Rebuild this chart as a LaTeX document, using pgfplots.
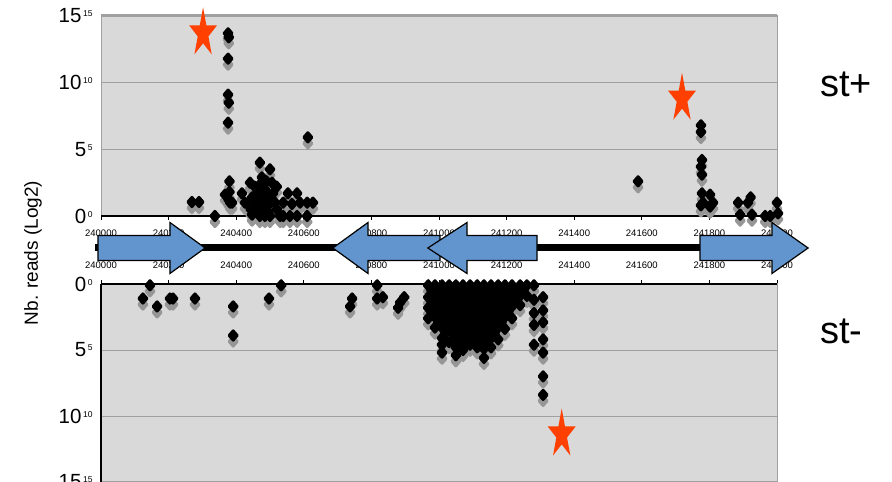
\documentclass[border=0pt]{standalone}
\usepackage{fontspec}
\setmainfont{Liberation Sans}
\usepackage{pgfplots}
\pgfplotsset{compat=1.18}
\usepackage{pgfplotstable}
\definecolor{bgc}{RGB}{217,217,217}
\definecolor{gcol}{RGB}{160,160,160}
\definecolor{shc}{RGB}{150,150,150}
\definecolor{arr}{RGB}{98,149,205}
\definecolor{starc}{RGB}{255,64,0}
\pgfdeclareplotmark{bigstar}{%
 \pgfpathmoveto{\pgfqpoint{0pt}{26pt}}%
 \pgfpathlineto{\pgfqpoint{3.30pt}{8.03pt}}%
 \pgfpathlineto{\pgfqpoint{13.98pt}{8.03pt}}%
 \pgfpathlineto{\pgfqpoint{5.34pt}{-3.07pt}}%
 \pgfpathlineto{\pgfqpoint{8.64pt}{-21.03pt}}%
 \pgfpathlineto{\pgfqpoint{0pt}{-9.93pt}}%
 \pgfpathlineto{\pgfqpoint{-8.64pt}{-21.03pt}}%
 \pgfpathlineto{\pgfqpoint{-5.34pt}{-3.07pt}}%
 \pgfpathlineto{\pgfqpoint{-13.98pt}{8.03pt}}%
 \pgfpathlineto{\pgfqpoint{-3.30pt}{8.03pt}}%
 \pgfpathclose
 \pgfusepathqfill}
\newcommand{\yl}[1]{\mbox{\fontsize{20.5}{20.5}\selectfont #1\hspace{1.5pt}\raisebox{6pt}{\fontsize{8.5}{8.5}\selectfont #1}}}
\pgfplotstableread{
x y
240269 1.05
240290 1.05
240337 0.0
240376 13.7
240378 13.4
240376 11.8
240376 9.1
240378 8.5
240376 7.0
240380 2.6
240380 1.8
240378 1.2
240382 1.0
240367 1.6
240388 1.0
240417 1.7
240426 1.0
240441 2.5
240447 1.4
240447 0.1
240443 0.5
240452 0.5
240455 2.2
240455 0.9
240458 1.5
240462 1.7
240462 0.8
240466 0.3
240468 2.3
240470 4.0
240476 2.9
240470 0.0
240475 1.2
240480 1.8
240480 0.5
240485 2.0
240485 0.0
240490 2.6
240490 1.3
240494 0.8
240495 0.3
240500 3.5
240506 2.5
240500 0.0
240505 1.2
240509 1.7
240515 1.0
240520 2.2
240520 0.5
240530 0.0
240539 1.0
240553 1.7
240565 0.9
240580 1.7
240539 0.0
240559 0.0
240580 0.0
240589 1.0
240610 1.0
240627 1.0
240610 0.0
240612 5.9
241589 2.6
241775 6.8
241775 6.3
241778 4.2
241775 3.7
241778 3.1
241778 1.7
241781 1.0
241775 0.8
241802 1.6
241811 1.0
241802 0.7
241885 1.0
241891 0.1
241914 1.0
241922 1.4
241926 0.1
241965 0.0
241980 0.0
242000 1.0
242003 0.2
}\topdata
\pgfplotstableread{
x y
240124 1.1
240145 0.1
240166 1.7
240204 1.1
240213 1.1
240278 1.1
240391 1.7
240391 3.9
240497 1.1
240533 0.1
240743 1.1
240737 1.7
240817 0.1
240817 1.1
240834 1.0
240879 1.8
240885 1.4
240897 1.0
240968 0.1
240968 1.0
240968 1.8
240968 2.6
240978 0.5
240978 1.3
240978 2.1
240988 0.1
240988 0.9
240988 1.7
240988 2.5
240988 3.3
240998 0.5
240998 1.3
240998 2.1
240998 2.9
241009 0.1
241009 0.9
241009 1.7
241009 2.5
241009 3.3
241009 4.1
241009 4.6
241009 5.2
241019 0.5
241019 1.3
241019 2.1
241019 2.9
241019 3.7
241030 0.1
241030 0.9
241030 1.7
241030 2.5
241030 3.3
241030 4.4
241040 0.5
241040 1.3
241040 2.1
241040 2.9
241040 3.7
241050 0.1
241050 0.9
241050 1.7
241050 2.5
241050 3.3
241050 4.1
241050 4.8
241050 5.4
241060 0.5
241060 1.3
241060 2.1
241060 2.9
241060 3.7
241060 4.5
241071 0.1
241071 0.9
241071 1.7
241071 2.5
241071 3.3
241071 4.1
241071 5.0
241081 0.5
241081 1.3
241081 2.1
241081 2.9
241081 3.7
241081 4.4
241092 0.1
241092 0.9
241092 1.7
241092 2.5
241092 3.3
241092 4.1
241092 4.6
241102 0.5
241102 1.3
241102 2.1
241102 2.9
241102 3.7
241102 4.4
241113 0.1
241113 0.9
241113 1.7
241113 2.5
241113 3.3
241113 4.1
241113 4.8
241123 0.5
241123 1.3
241123 2.1
241123 2.9
241123 3.7
241123 4.5
241133 0.1
241133 0.9
241133 1.7
241133 2.5
241133 3.3
241133 4.1
241133 4.9
241133 5.6
241143 0.5
241143 1.3
241143 2.1
241143 2.9
241143 3.7
241143 4.5
241154 0.1
241154 0.9
241154 1.7
241154 2.5
241154 3.3
241154 4.1
241154 4.8
241164 0.5
241164 1.3
241164 2.1
241164 2.9
241164 3.7
241175 0.1
241175 0.9
241175 1.7
241175 2.5
241175 3.3
241175 4.2
241185 0.5
241185 1.3
241185 2.1
241185 2.9
241195 0.1
241195 0.9
241195 1.7
241195 2.5
241195 3.4
241205 0.5
241205 1.3
241205 2.1
241216 0.1
241216 0.9
241216 1.7
241216 2.6
241228 0.5
241228 1.3
241240 0.1
241240 0.9
241240 1.6
241250 0.5
241260 0.1
241260 0.9
241281 0.1
241281 1.2
241281 2.2
241281 3.1
241281 4.6
241308 1.0
241308 2.0
241308 2.9
241308 4.2
241308 5.2
241308 7.0
241308 8.4
}\botdata
\pgfplotsset{
 panel/.style={
  scale only axis, width=676pt, xmin=240000, xmax=242000, clip=false,
  axis background/.style={fill=bgc},
  ymajorgrids, grid style={gcol, line width=0.8pt},
  xtick={240000,240200,240400,240600,240800,241000,241200,241400,241600,241800,242000},
  xticklabels={240000,240200,240400,240600,240800,241000,241200,241400,241600,241800,242000},
  x tick label style={font=\fontsize{9.5}{10}\selectfont},
  y tick label style={anchor=east, xshift=-1pt},
  ytick style={draw=none},
  xtick style={black, line width=0.8pt},
  major tick length=4pt, tick align=outside,
  axis line style={gcol, line width=1pt},
 },
 dots/.style={only marks, mark=diamond*, mark size=4.6pt, color=black,
  mark options={line width=3pt, line join=round, xscale=1.15}},
 shadow/.style={only marks, mark=diamond*, mark size=4.6pt, color=shc,
  mark options={line width=3pt, line join=round, xscale=1.15, yshift=-6pt}},
}
\begin{document}
\begin{tikzpicture}
\useasboundingbox (0,0) rectangle (892pt,482pt);
% top panel (st+)
\begin{axis}[panel, at={(101pt,266pt)}, anchor=south west, height=200pt,
  ymin=0, ymax=15, ytick={0,5,10,15},
  yticklabels={\yl{0},\yl{5},\yl{10},\yl{15}},
  xtick pos=lower, xticklabel pos=lower,
  x tick label style={yshift=-6pt}]
\addplot[gcol, line width=3pt] coordinates {(240000,15) (242000,15)};
\addplot[black, line width=1.5pt] coordinates {(240000,0) (242000,0)};
\addplot[shadow] table[x=x,y=y] {\topdata};
\addplot[dots] table[x=x,y=y] {\topdata};
\addplot[only marks, mark=bigstar, color=starc] coordinates {(240302,13.7) (241719,8.8)};
\end{axis}
% bottom panel (st-)
\begin{axis}[panel, at={(101pt,0pt)}, anchor=south west, height=198pt,
  ymin=-15, ymax=0, ytick={-15,-10,-5,0},
  yticklabels={\yl{15},\yl{10},\yl{5},\yl{0}},
  xtick pos=upper, xticklabel pos=upper,
  x tick label style={yshift=8pt}]
\addplot[black, line width=1.5pt] coordinates {(240000,0) (242000,0)};
\addplot[black, line width=1.5pt] coordinates {(240000,0) (240000,-15)};
\addplot[shadow] table[x=x,y expr=-\thisrow{y}] {\botdata};
\addplot[dots] table[x=x,y expr=-\thisrow{y}] {\botdata};
\addplot[only marks, mark=bigstar, color=starc] coordinates {(241363,-11.4)};
\end{axis}
% gene track
\begin{axis}[at={(101pt,204pt)}, anchor=south west, scale only axis,
  width=676pt, height=60pt, xmin=240000, xmax=242000, ymin=-30, ymax=30,
  hide axis, clip=false]
\addplot[fill=black, draw=none] coordinates {(239982,3.5) (241772,3.5) (241772,-3.5) (239982,-3.5)} -- cycle;
\addplot[fill=arr, draw=black, line width=1.2pt, line join=miter] coordinates {(239991,12.5) (240204,12.5) (240204,25.5) (240308,0) (240204,-25.5) (240204,-12.5) (239991,-12.5)} -- cycle;
\addplot[fill=arr, draw=black, line width=1.2pt, line join=miter] coordinates {(241003,12.5) (240790,12.5) (240790,25.5) (240686,0) (240790,-25.5) (240790,-12.5) (241003,-12.5)} -- cycle;
\addplot[fill=arr, draw=black, line width=1.2pt, line join=miter] coordinates {(241290,12.5) (241083,12.5) (241083,25.5) (240967,0) (241083,-25.5) (241083,-12.5) (241290,-12.5)} -- cycle;
\addplot[fill=arr, draw=black, line width=1.2pt, line join=miter] coordinates {(241772,12.5) (241985,12.5) (241985,25.5) (242092,0) (241985,-25.5) (241985,-12.5) (241772,-12.5)} -- cycle;
\end{axis}
\node[rotate=90, font=\fontsize{19}{19}\selectfont] at (33pt,229pt) {Nb. reads (Log2)};
\node[anchor=base west, font=\fontsize{38}{38}\selectfont, inner sep=0pt] at (820pt,385pt) {st+};
\node[anchor=base west, font=\fontsize{38}{38}\selectfont, inner sep=0pt] at (820pt,138pt) {st-};
\end{tikzpicture}
\end{document}
